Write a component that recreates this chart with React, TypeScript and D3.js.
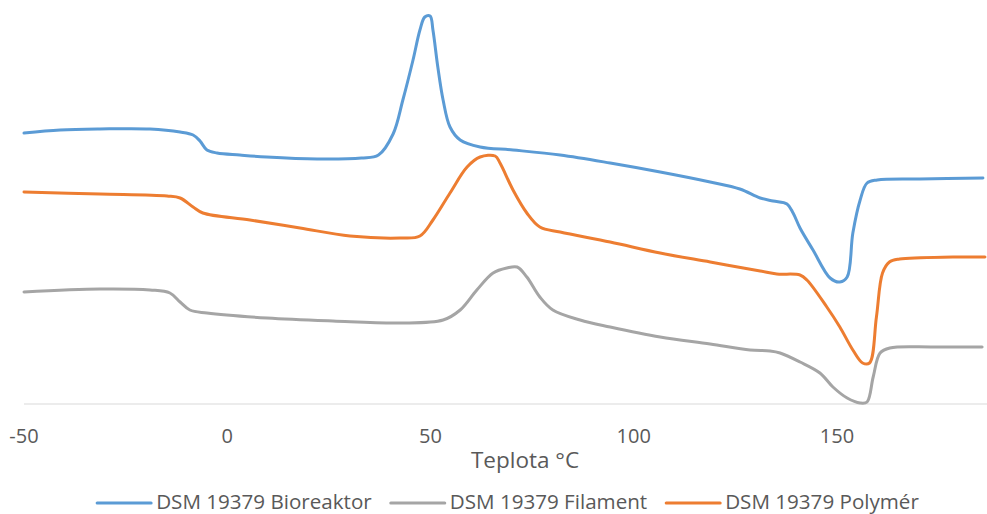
import React, { useRef, useEffect } from 'react'
import * as d3 from 'd3'

// DSC curves, [teplota °C, tepelný tok (rel. jednotky)]
const bioreaktor: [number, number][] = [
  [-50, 271], [-41.1, 274], [-31.3, 275], [-19.0, 275], [-11.6, 272], [-8.4, 269],
  [-6.7, 263], [-5.0, 254], [-2.5, 251], [3.1, 249], [9.7, 247], [22.1, 245],
  [33.0, 246], [37.2, 249], [40.8, 270], [43.2, 304], [45.7, 344],
  [47.4, 374], [48.6, 387], [49.9, 388], [50.6, 374], [51.8, 337], [53.1, 304],
  [54.8, 277], [57.3, 264], [62.2, 257], [70.3, 254], [81.9, 249], [94.2, 241],
  [106.5, 232], [118.8, 222], [126.1, 215], [131.1, 206], [134.3, 203], [137.7, 200],
  [139.2, 191], [140.9, 176], [144.1, 154], [148.3, 126], [150.7, 122], [152.5, 127],
  [153.9, 171], [155.7, 204], [157.4, 221], [159.9, 224], [170.4, 225], [185.9, 226]
]

const filament: [number, number][] = [
  [-50, 112], [-31.3, 115], [-19.0, 114], [-14.1, 111], [-11.6, 102], [-9.2, 94],
  [-5.0, 91], [9.8, 86], [26.0, 83], [42.5, 81], [53.1, 84], [57.3, 94],
  [61.4, 114], [65.4, 131], [68.8, 136], [71.3, 137], [73.7, 127], [76.9, 107],
  [80.1, 94], [86.8, 84], [94.2, 77], [106.5, 67], [118.8, 60], [128.6, 54],
  [133.5, 53], [136.0, 51], [140.9, 42], [145.8, 31], [149.0, 17], [152.5, 6],
  [155.7, 1], [157.4, 2], [158.9, 27], [160.6, 51], [163.0, 56], [173.6, 57], [185.7, 57]
]

const polymer: [number, number][] = [
  [-50, 212], [-31.3, 210], [-14.8, 208], [-11.6, 206], [-8.4, 197], [-6.0, 191],
  [5.6, 184], [17.9, 176], [30.2, 168], [42.5, 166], [47.4, 168], [50.6, 184],
  [54.8, 211], [59.0, 237], [62.2, 247], [65.9, 248], [67.1, 241], [70.3, 214],
  [73.7, 191], [76.9, 177], [81.9, 172], [94.2, 162], [106.5, 151], [118.8, 142],
  [131.1, 133], [135.2, 130], [140.9, 129], [142.6, 124], [147.5, 97], [150.7, 77],
  [153.9, 54], [156.3, 41], [158.0, 41], [159.7, 87], [161.2, 131], [162.9, 142],
  [165.4, 145], [178.5, 147], [186.4, 147]
]

const seriesNames = ['DSM 19379 Bioreaktor', 'DSM 19379 Filament', 'DSM 19379 Polymér']
const seriesData = [bioreaktor, filament, polymer]
const seriesColors = ['#5B9BD5', '#A5A5A5', '#ED7D31']
const xTicks = [-50, 0, 50, 100, 150]
const xTitle = 'Teplota °C'

export default function App() {
  const svgRef = useRef<SVGSVGElement>(null)
  const width = 987
  const height = 514

  useEffect(() => {
    const svg = d3.select(svgRef.current)
    svg.selectAll('*').remove()

    const font = "'Open Sans', sans-serif"
    const textColor = '#595959'

    const x = d3.scaleLinear().domain([-50, 187]).range([24, 987.4])
    const y = d3.scaleLinear().domain([0, 394]).range([404, 10])

    // axis line
    svg.append('line')
      .attr('x1', x(-50)).attr('x2', width)
      .attr('y1', y(0)).attr('y2', y(0))
      .attr('stroke', '#D9D9D9')
      .attr('stroke-width', 1.2)

    // tick labels
    svg.append('g')
      .selectAll('text')
      .data(xTicks)
      .join('text')
        .attr('x', d => x(d))
        .attr('y', 443)
        .attr('text-anchor', 'middle')
        .attr('font-family', font)
        .attr('font-size', 20)
        .attr('fill', textColor)
        .text(d => d)

    svg.append('text')
      .attr('x', 525)
      .attr('y', 468)
      .attr('text-anchor', 'middle')
      .attr('font-family', font)
      .attr('font-size', 22.5)
      .attr('fill', textColor)
      .text(xTitle)

    const line = d3.line<[number, number]>()
      .x(d => x(d[0]))
      .y(d => y(d[1]))
      .curve(d3.curveCatmullRom.alpha(0.5))

    svg.append('g')
      .selectAll('path')
      .data(seriesData)
      .join('path')
        .attr('fill', 'none')
        .attr('stroke', (_, i) => seriesColors[i])
        .attr('stroke-width', 3)
        .attr('stroke-linejoin', 'round')
        .attr('stroke-linecap', 'round')
        .attr('d', d => line(d))

    // legend, centred below the title
    const legend = svg.append('g')
    const items = legend.selectAll('g')
      .data(seriesNames)
      .join('g')
    items.append('line')
      .attr('x1', 0).attr('x2', 54)
      .attr('y1', 503).attr('y2', 503)
      .attr('stroke', (_, i) => seriesColors[i])
      .attr('stroke-width', 3)
      .attr('stroke-linecap', 'round')
    items.append('text')
      .attr('x', 59)
      .attr('y', 509)
      .attr('font-family', font)
      .attr('font-size', 20.6)
      .attr('fill', textColor)
      .text(d => d)

    const widths = items.nodes().map(n =>
      59 + (d3.select(n).select('text').node() as SVGTextElement).getComputedTextLength())
    const gap = 19
    const total = d3.sum(widths) + gap * (widths.length - 1)
    let cx = 508 - total / 2
    items.attr('transform', (_, i) => {
      const t = `translate(${cx},0)`
      cx += widths[i] + gap
      return t
    })
  }, [])

  return (
    <svg
      ref={svgRef}
      width={width}
      height={height}
      style={{ position: 'absolute', left: 0, top: 0, background: '#fff' }}
    />
  )
}
